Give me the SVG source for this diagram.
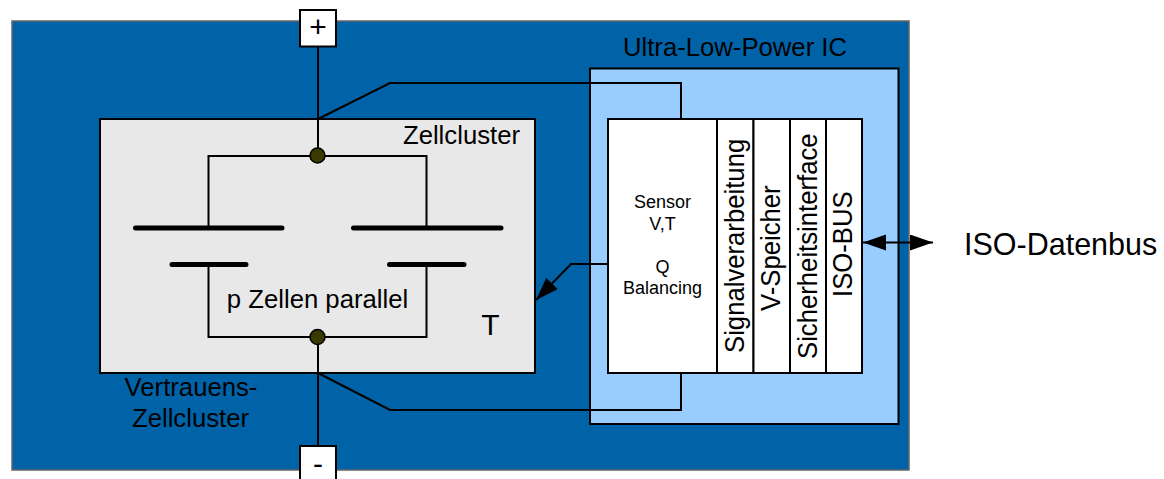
<svg xmlns="http://www.w3.org/2000/svg" width="1164" height="479" viewBox="0 0 1164 479">
<style>
text{font-family:"Liberation Sans",Arial,sans-serif;fill:#000}
.b{stroke:#000;stroke-width:2;fill:#fff}
.w{stroke:#000;stroke-width:2;fill:none}
.p{stroke:#000;stroke-width:5;stroke-linecap:round;fill:none}
.d{fill:#3a3a00;stroke:#000;stroke-width:1.5}
.l{font-size:25.700px}
.s{font-size:18px;text-anchor:middle}
</style>
<defs>
<marker id="a" markerUnits="userSpaceOnUse" markerWidth="26" markerHeight="20" refX="23" refY="8" orient="auto-start-reverse"><path d="M0 0L23 8L0 16z" fill="#000"/></marker>
</defs>
<g id="outer"><rect x="12" y="21" width="897" height="449" fill="#0063a8" stroke="#666" stroke-width="1.5"/></g>
<g id="ic"><rect x="590" y="68.500" width="308.500" height="355.500" fill="#9cf" stroke="#000" stroke-width="2"/><text x="735" y="56" class="l" text-anchor="middle">Ultra-Low-Power IC</text></g>
<g id="cluster"><rect x="100" y="119" width="435" height="254" fill="#e8e8e8" stroke="#000" stroke-width="2"/><text x="520" y="144" class="l" text-anchor="end">Zellcluster</text><text x="317.500" y="308" class="l" text-anchor="middle">p Zellen parallel</text><text x="490.500" y="335" font-size="30" text-anchor="middle">T</text></g>
<g id="blocks">
<rect x="608" y="119" width="109" height="254" class="b"/>
<rect x="717" y="119" width="36.500" height="254" class="b"/>
<rect x="753.500" y="119" width="36.500" height="254" class="b"/>
<rect x="790" y="119" width="36" height="254" class="b"/>
<rect x="826" y="119" width="36" height="254" class="b"/>
<text x="662.500" y="208" class="s">Sensor</text><text x="662.500" y="230" class="s">V,T</text><text x="662.500" y="273" class="s">Q</text><text x="662.500" y="294" class="s">Balancing</text>
<text transform="translate(744 353) rotate(-90) scale(1 1.08)" class="l">Signalverarbeitung</text>
<text transform="translate(780 311) rotate(-90) scale(1 1.08)" class="l">V-Speicher</text>
<text transform="translate(816.500 359) rotate(-90) scale(1 1.08)" class="l">Sicherheitsinterface</text>
<text transform="translate(852 297) rotate(-90) scale(1 1.08)" class="l">ISO-BUS</text>
</g>
<g id="connectors">
<path class="w" d="M318 47V155M318 337V446"/>
<path class="w" d="M318 119L390 83H681V119M318 373L390 410H681V373"/>
<path class="w" d="M208.500 228V156H426.500V228M208.500 265V337H426.500V265"/>
<path class="w" d="M608 264H571L536 300" marker-end="url(#a)"/>
<path class="w" d="M863 242.500H933" marker-start="url(#a)" marker-end="url(#a)"/>
</g>
<g id="battery"><path class="p" d="M135.500 228H282M353.500 228H501M172 264.500H246M389.500 264.500H464"/></g>
<g id="dots"><ellipse cx="317.500" cy="155.500" rx="7.500" ry="7.500" class="d"/><ellipse cx="317.500" cy="337" rx="7.500" ry="7.500" class="d"/></g>
<g id="plus"><rect x="300" y="10" width="36" height="36.500" class="b"/><text x="318" y="37" font-size="30" text-anchor="middle">+</text></g>
<g id="minus"><rect x="300" y="446" width="36" height="40" class="b"/><text x="318" y="474" font-size="30" text-anchor="middle">-</text></g>
<g id="labels"><text x="191" y="396" class="l" text-anchor="middle">Vertrauens-</text><text x="190.500" y="427" class="l" text-anchor="middle">Zellcluster</text><text x="964" y="255" font-size="30.500">ISO-Datenbus</text></g>
</svg>
